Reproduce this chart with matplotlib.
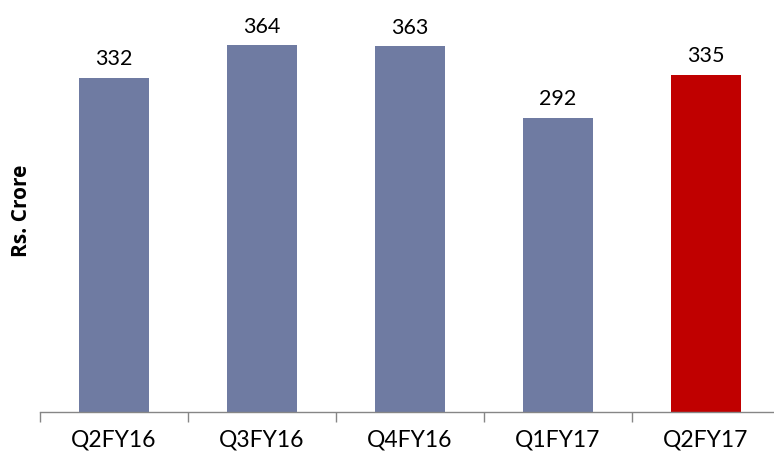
import matplotlib
matplotlib.use("Agg")
import matplotlib.pyplot as plt
import numpy as np

quarters = ["Q2FY16", "Q3FY16", "Q4FY16", "Q1FY17", "Q2FY17"]
revenue = [332, 364, 363, 292, 335]
bar_colors = ["#6F7BA2", "#6F7BA2", "#6F7BA2", "#6F7BA2", "#C00000"]

plt.rcParams["font.family"] = ["Lato", "DejaVu Sans"]

W, H = 774, 460
fig = plt.figure(figsize=(W / 100, H / 100), dpi=100)
# axes run a little past the right edge so the last category keeps full width
ax = fig.add_axes([40 / W, 47 / H, 740 / W, 413 / H])

x = np.arange(len(quarters))
bars = ax.bar(x, revenue, width=0.47, color=bar_colors)
for rect, v in zip(bars, revenue):
    ax.annotate(str(v), (rect.get_x() + rect.get_width() / 2, v),
                xytext=(0, 7), textcoords="offset points",
                ha="center", va="bottom", fontsize=15.5, color="#000000")

ax.set_xlim(-0.5, len(quarters) - 0.5)
ax.set_ylim(0, 410)

for side in ("left", "right", "top"):
    ax.spines[side].set_visible(False)
ax.spines["bottom"].set_color("#868686")
ax.spines["bottom"].set_linewidth(1.0)

ax.set_yticks([])
ax.set_xticks(x)
ax.set_xticklabels(quarters, fontsize=16.5)
ax.tick_params(axis="x", which="major", length=0, pad=12)
ax.set_xticks(np.arange(-0.5, len(quarters), 1.0), minor=True)
ax.tick_params(axis="x", which="minor", length=7, width=1.0, color="#868686",
               direction="out")

ax.set_ylabel("Rs. Crore", fontsize=15, fontweight="bold",
              family=["Open Sans", "DejaVu Sans"])
ax.yaxis.set_label_coords(-0.011, 0.49)

fig.savefig("out.png", dpi=100)
